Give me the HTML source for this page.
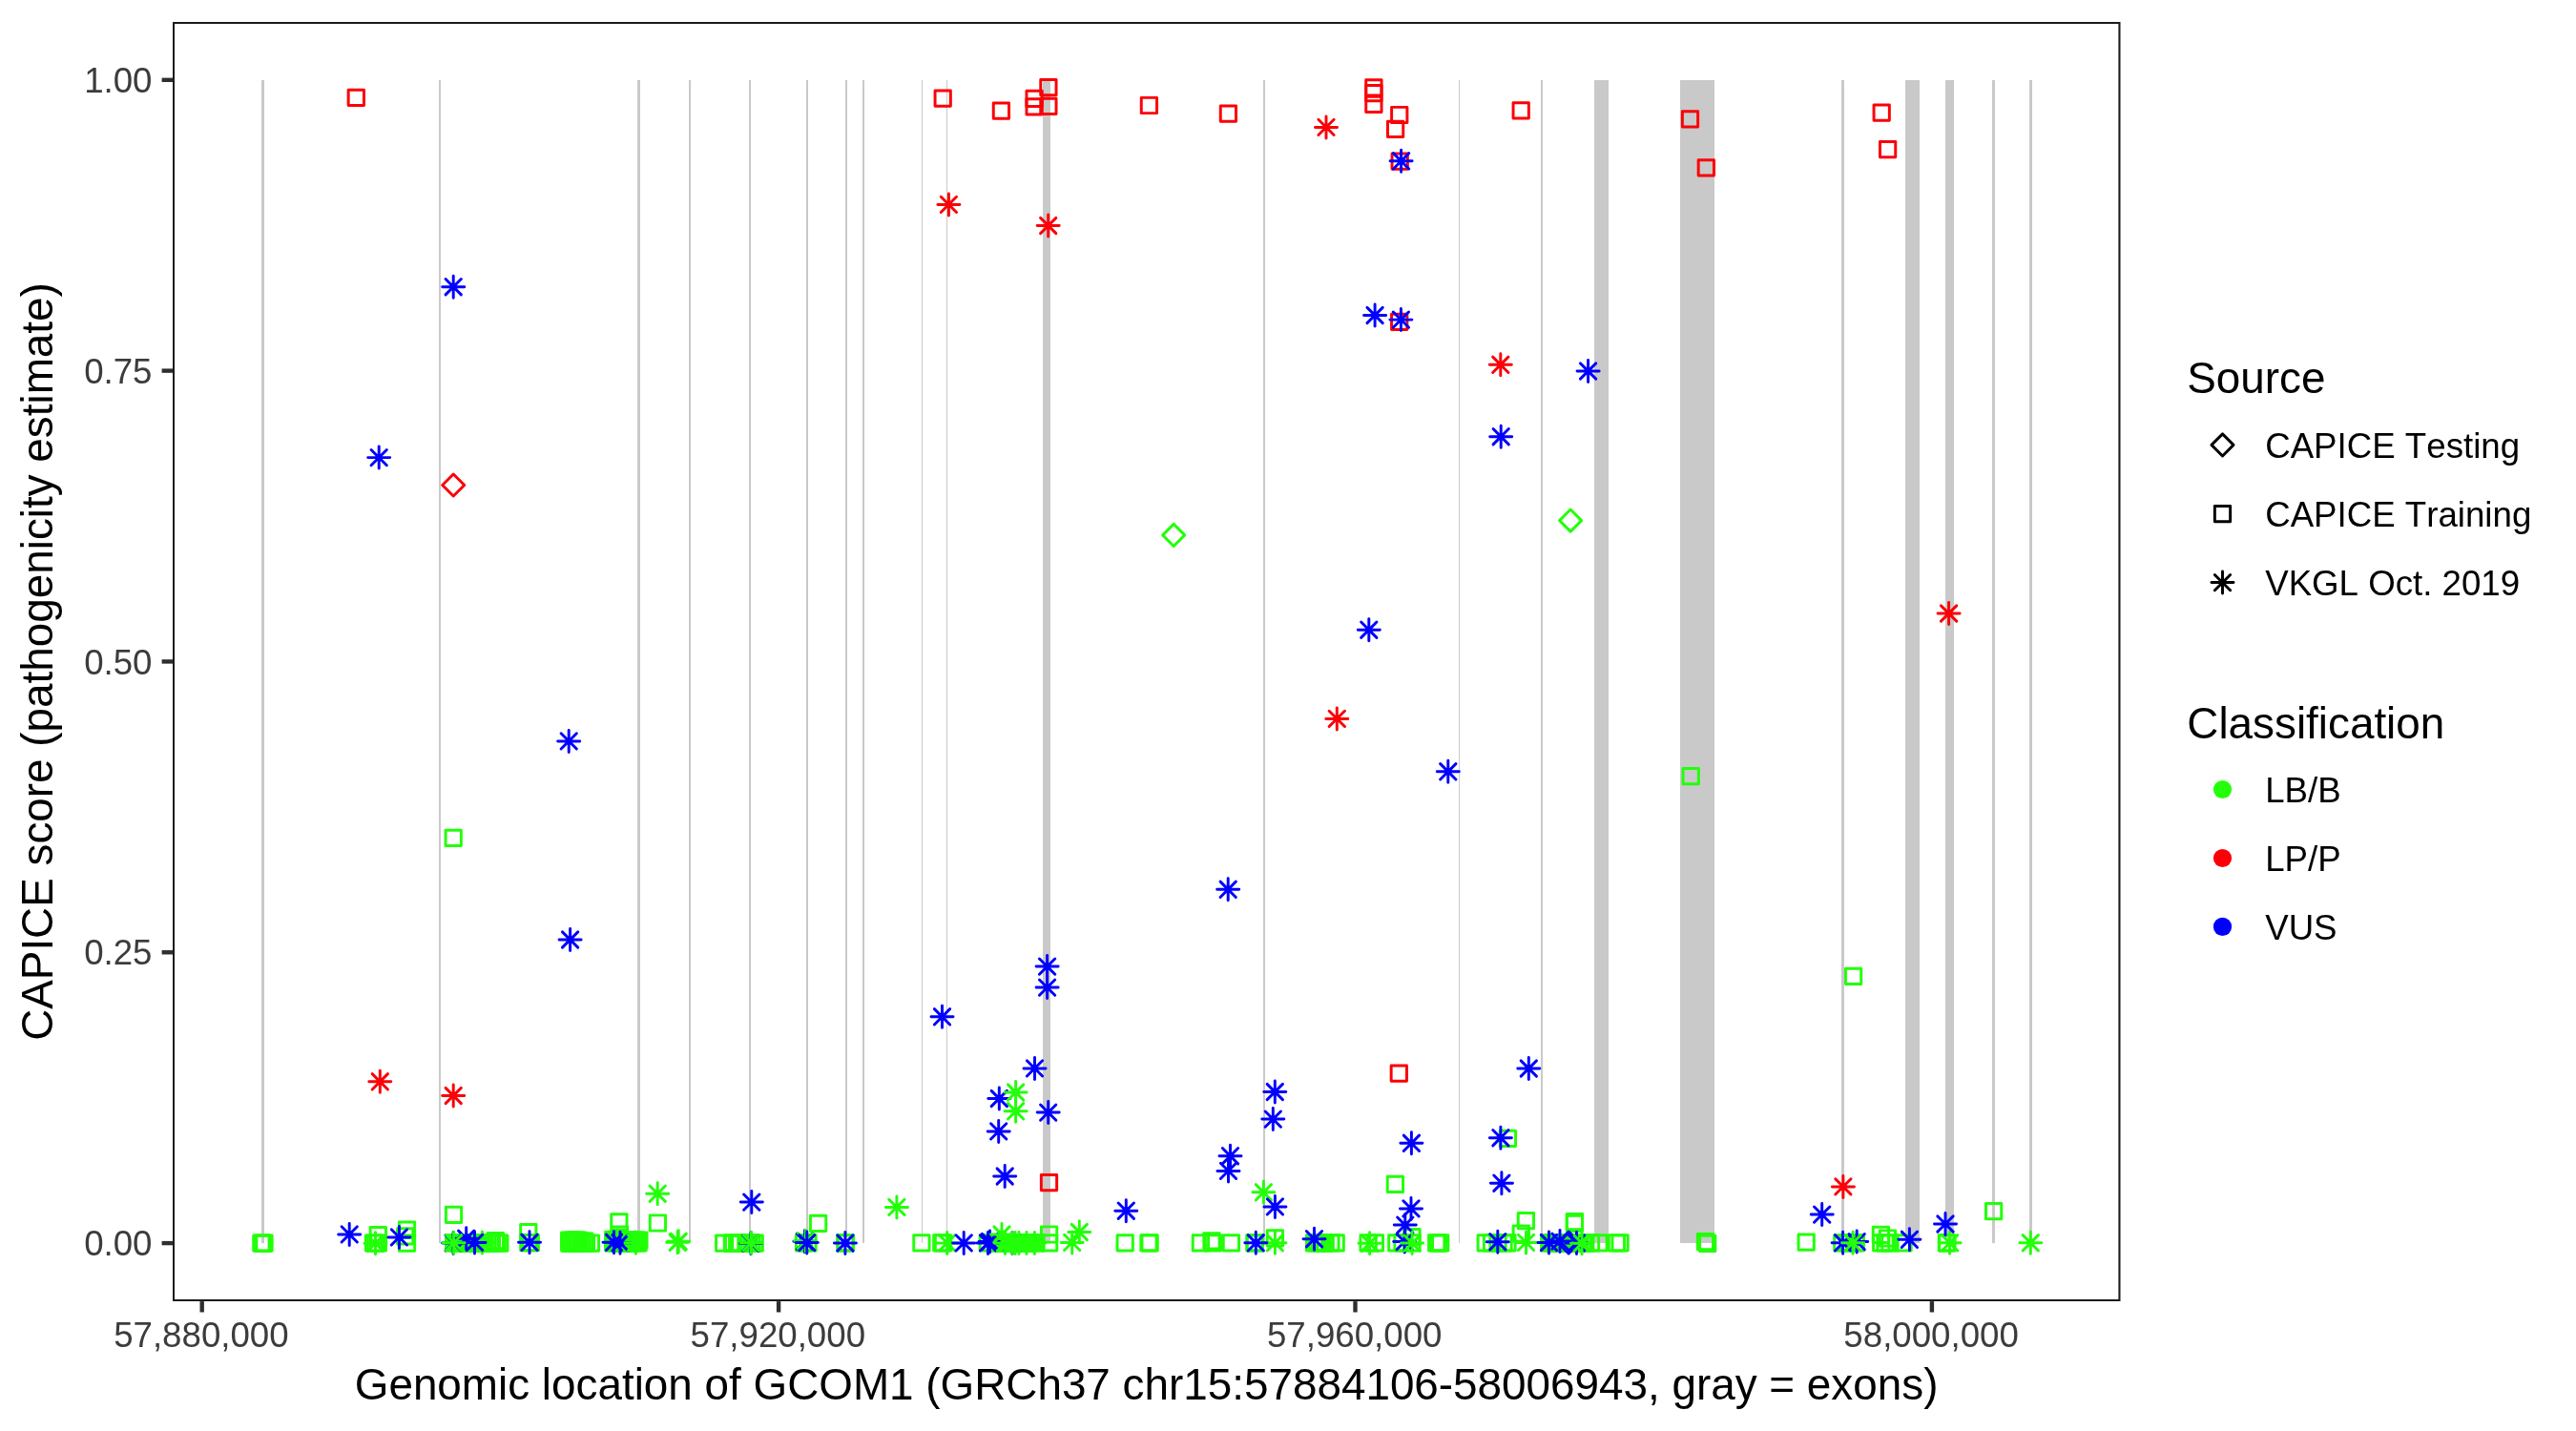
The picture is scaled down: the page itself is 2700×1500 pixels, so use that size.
<!DOCTYPE html>
<html><head><meta charset="utf-8"><title>GCOM1 CAPICE</title>
<style>
html,body{margin:0;padding:0;background:#fff;}
svg{display:block;will-change:transform;}
text{font-family:"Liberation Sans",sans-serif;font-kerning:none;}
.p{fill:none;stroke-width:2.95;stroke-linecap:round;stroke-linejoin:round;}
.g{stroke:#22ff08;}.r{stroke:#fb0006;}.b{stroke:#0000fe;}
.at{font-size:36.67px;fill:#3c3c3c;}
.ti{font-size:45.83px;fill:#000;}
.lt{font-size:36.67px;fill:#000;}
</style></head><body>
<svg width="2700" height="1500" viewBox="0 0 2700 1500">
<defs>
<path id="a" d="M-11.52 0H11.52M0 -11.52V11.52M-8.145 -8.145L8.145 8.145M-8.145 8.145L8.145 -8.145"/>
<path id="s" d="M-8.145 -8.145H8.145V8.145H-8.145Z"/>
<path id="d" d="M-11.52 0L0 -11.52L11.52 0L0 11.52Z"/>
</defs>
<rect x="0" y="0" width="2700" height="1500" fill="#fff"/>
<g fill="#c9c9c9">
<rect x="274" y="84" width="3" height="1219"/>
<rect x="460" y="84" width="2" height="1219"/>
<rect x="668" y="84" width="3" height="1219"/>
<rect x="722" y="84" width="2" height="1219"/>
<rect x="785" y="84" width="2" height="1219"/>
<rect x="845" y="84" width="2" height="1219"/>
<rect x="886" y="84" width="2" height="1219"/>
<rect x="904" y="84" width="2" height="1219"/>
<rect x="966" y="84" width="1" height="1219"/>
<rect x="992" y="84" width="1" height="1219"/>
<rect x="1093" y="84" width="8" height="1219"/>
<rect x="1324" y="84" width="2" height="1219"/>
<rect x="1529" y="84" width="1" height="1219"/>
<rect x="1615" y="84" width="2" height="1219"/>
<rect x="1671" y="84" width="15" height="1219"/>
<rect x="1761" y="84" width="36" height="1219"/>
<rect x="1930" y="84" width="3" height="1219"/>
<rect x="1997" y="84" width="15" height="1219"/>
<rect x="2039" y="84" width="9" height="1219"/>
<rect x="2088" y="84" width="3" height="1219"/>
<rect x="2127" y="84" width="3" height="1219"/>
</g>
<g class="p g">
<use href="#s" x="475.2" y="878.4"/><use href="#s" x="1772.2" y="813.6"/><use href="#s" x="1942.6" y="1023.4"/><use href="#s" x="2089.6" y="1269.6"/><use href="#s" x="1462.4" y="1241.4"/><use href="#s" x="1580.4" y="1193.4"/><use href="#s" x="475.5" y="1273.4"/><use href="#s" x="689.4" y="1282"/><use href="#s" x="648.9" y="1280.9"/><use href="#s" x="649.5" y="1294"/><use href="#s" x="857.6" y="1282.3"/><use href="#s" x="1599.4" y="1279.7"/><use href="#s" x="1594.3" y="1293"/><use href="#s" x="1650.4" y="1280.6"/><use href="#s" x="1650.4" y="1282.3"/><use href="#s" x="396.3" y="1294.6"/><use href="#s" x="426.5" y="1289.2"/><use href="#s" x="424.7" y="1295.8"/><use href="#s" x="426.5" y="1303.2"/><use href="#s" x="553.8" y="1291.7"/><use href="#s" x="1099.6" y="1294"/><use href="#s" x="1336.4" y="1297.8"/><use href="#s" x="1480" y="1296.7"/><use href="#s" x="1971.4" y="1294.3"/><use href="#s" x="1978.4" y="1298"/><use href="#s" x="1270" y="1300.8"/><use href="#s" x="519.4" y="1300.7"/><use href="#s" x="273.9" y="1303.1"/><use href="#s" x="275.4" y="1303.1"/><use href="#s" x="277" y="1303.1"/><use href="#s" x="391.6" y="1303"/><use href="#s" x="393.5" y="1303"/><use href="#s" x="396.3" y="1303"/><use href="#s" x="475.6" y="1302.9"/><use href="#s" x="478.53" y="1302.9"/><use href="#s" x="481.46" y="1302.9"/><use href="#s" x="484.39" y="1302.9"/><use href="#s" x="487.32" y="1302.9"/><use href="#s" x="490.25" y="1302.9"/><use href="#s" x="493.18" y="1302.9"/><use href="#s" x="496.11" y="1302.9"/><use href="#s" x="499.04" y="1302.9"/><use href="#s" x="501.97" y="1302.9"/><use href="#s" x="504.9" y="1302.9"/><use href="#s" x="507.83" y="1302.9"/><use href="#s" x="510.76" y="1302.9"/><use href="#s" x="513.69" y="1302.9"/><use href="#s" x="515.4" y="1302.9"/><use href="#s" x="521.2" y="1302.9"/><use href="#s" x="523.8" y="1303.2"/><use href="#s" x="553.8" y="1302.6"/><use href="#s" x="556.3" y="1302.6"/><use href="#s" x="596.7" y="1303.1"/><use href="#s" x="597.7" y="1303.1"/><use href="#s" x="600.6" y="1303.1"/><use href="#s" x="603.5" y="1303.1"/><use href="#s" x="606.5" y="1303.1"/><use href="#s" x="609.6" y="1303.1"/><use href="#s" x="614.4" y="1303.1"/><use href="#s" x="619.4" y="1303.1"/><use href="#s" x="596.7" y="1300.05"/><use href="#s" x="600.6" y="1300.05"/><use href="#s" x="603.5" y="1300.05"/><use href="#s" x="606" y="1300.05"/><use href="#s" x="609.6" y="1301"/><use href="#s" x="612.5" y="1301"/><use href="#s" x="642.7" y="1302.9"/><use href="#s" x="645.63" y="1302.9"/><use href="#s" x="648.56" y="1302.9"/><use href="#s" x="651.49" y="1302.9"/><use href="#s" x="654.42" y="1302.9"/><use href="#s" x="657.35" y="1302.9"/><use href="#s" x="660.28" y="1302.9"/><use href="#s" x="663.21" y="1302.9"/><use href="#s" x="666.14" y="1302.9"/><use href="#s" x="669.07" y="1302.9"/><use href="#s" x="642.7" y="1299.3"/><use href="#s" x="645.6" y="1299.3"/><use href="#s" x="661" y="1300"/><use href="#s" x="664" y="1300"/><use href="#s" x="667" y="1300"/><use href="#s" x="669.9" y="1300"/><use href="#s" x="758.7" y="1303.05"/><use href="#s" x="767.4" y="1303.05"/><use href="#s" x="768.6" y="1303.05"/><use href="#s" x="772.7" y="1303.05"/><use href="#s" x="775.8" y="1303.05"/><use href="#s" x="782" y="1303.05"/><use href="#s" x="785" y="1303.05"/><use href="#s" x="788" y="1303.05"/><use href="#s" x="791.2" y="1303.05"/><use href="#s" x="842.5" y="1302.9"/><use href="#s" x="847" y="1302.9"/><use href="#s" x="885.8" y="1302.9"/><use href="#s" x="886.5" y="1302.9"/><use href="#s" x="965.9" y="1302.9"/><use href="#s" x="986.8" y="1302.9"/><use href="#s" x="988.5" y="1302.9"/><use href="#s" x="1035.3" y="1302.9"/><use href="#s" x="1046" y="1302.9"/><use href="#s" x="1048.93" y="1302.9"/><use href="#s" x="1051.86" y="1302.9"/><use href="#s" x="1054.79" y="1302.9"/><use href="#s" x="1057.72" y="1302.9"/><use href="#s" x="1060.65" y="1302.9"/><use href="#s" x="1063.58" y="1302.9"/><use href="#s" x="1066.51" y="1302.9"/><use href="#s" x="1069.44" y="1302.9"/><use href="#s" x="1072.37" y="1302.9"/><use href="#s" x="1075.3" y="1302.9"/><use href="#s" x="1078.23" y="1302.9"/><use href="#s" x="1081.16" y="1302.9"/><use href="#s" x="1086" y="1302.9"/><use href="#s" x="1099.6" y="1302.9"/><use href="#s" x="1179.2" y="1302.9"/><use href="#s" x="1204" y="1302.9"/><use href="#s" x="1205.1" y="1302.9"/><use href="#s" x="1258.4" y="1302.9"/><use href="#s" x="1271.5" y="1302.9"/><use href="#s" x="1290.4" y="1302.9"/><use href="#s" x="1314.9" y="1302.9"/><use href="#s" x="1315.5" y="1302.9"/><use href="#s" x="1377.5" y="1302.9"/><use href="#s" x="1380.4" y="1302.9"/><use href="#s" x="1383.4" y="1302.9"/><use href="#s" x="1386.3" y="1302.9"/><use href="#s" x="1389.2" y="1302.9"/><use href="#s" x="1394.9" y="1302.9"/><use href="#s" x="1400.2" y="1302.9"/><use href="#s" x="1434.1" y="1302.9"/><use href="#s" x="1441.4" y="1302.9"/><use href="#s" x="1463.8" y="1302.9"/><use href="#s" x="1470" y="1302.9"/><use href="#s" x="1480" y="1302.9"/><use href="#s" x="1505.7" y="1302.9"/><use href="#s" x="1507.5" y="1302.9"/><use href="#s" x="1509.7" y="1302.9"/><use href="#s" x="1557.2" y="1302.9"/><use href="#s" x="1563.5" y="1302.9"/><use href="#s" x="1570" y="1302.9"/><use href="#s" x="1576" y="1302.9"/><use href="#s" x="1580" y="1302.9"/><use href="#s" x="1623.7" y="1302.9"/><use href="#s" x="1626.63" y="1302.9"/><use href="#s" x="1629.56" y="1302.9"/><use href="#s" x="1632.49" y="1302.9"/><use href="#s" x="1635.42" y="1302.9"/><use href="#s" x="1638.35" y="1302.9"/><use href="#s" x="1641.28" y="1302.9"/><use href="#s" x="1644.21" y="1302.9"/><use href="#s" x="1647.14" y="1302.9"/><use href="#s" x="1650.07" y="1302.9"/><use href="#s" x="1653" y="1302.9"/><use href="#s" x="1655.93" y="1302.9"/><use href="#s" x="1658.86" y="1302.9"/><use href="#s" x="1661.79" y="1302.9"/><use href="#s" x="1667.5" y="1302.9"/><use href="#s" x="1676" y="1302.9"/><use href="#s" x="1694.4" y="1302.9"/><use href="#s" x="1698.1" y="1302.9"/><use href="#s" x="1787.4" y="1301.5"/><use href="#s" x="1789.7" y="1303.45"/><use href="#s" x="1893.2" y="1302.2"/><use href="#s" x="1930.8" y="1302.9"/><use href="#s" x="1937" y="1302.9"/><use href="#s" x="1945.3" y="1302.9"/><use href="#s" x="1971.7" y="1302.9"/><use href="#s" x="1976" y="1302.9"/><use href="#s" x="1981" y="1302.9"/><use href="#s" x="1995" y="1302.9"/><use href="#s" x="2040.4" y="1302.9"/><use href="#s" x="2040.9" y="1302.9"/>
</g>
<g class="p b">
<use href="#a" x="475.1" y="1302.9"/><use href="#a" x="787" y="1303.2"/><use href="#a" x="843.4" y="1301.3"/><use href="#a" x="1061" y="1302.9"/><use href="#a" x="1472.2" y="1301.6"/><use href="#a" x="1652.5" y="1302.9"/><use href="#a" x="1946.2" y="1301.6"/><use href="#a" x="1035.5" y="1302.9"/><use href="#a" x="1037.5" y="1301.5"/>
</g>
<g class="p g">
<use href="#a" x="689.2" y="1251.2"/><use href="#a" x="939.9" y="1265.4"/><use href="#a" x="1064.6" y="1164.8"/><use href="#a" x="1324.4" y="1249.8"/><use href="#a" x="1050" y="1294"/><use href="#a" x="1131.3" y="1291.5"/><use href="#a" x="1123.7" y="1302.4"/><use href="#a" x="393.5" y="1303.2"/><use href="#a" x="505.4" y="1302.5"/><use href="#a" x="710.2" y="1302.3"/><use href="#a" x="711.2" y="1301.3"/><use href="#a" x="844.3" y="1300.7"/><use href="#a" x="992.7" y="1302.9"/><use href="#a" x="1053.5" y="1302.9"/><use href="#a" x="1061" y="1302.9"/><use href="#a" x="1064" y="1302.9"/><use href="#a" x="1068" y="1302.9"/><use href="#a" x="1076" y="1302.9"/><use href="#a" x="1084.4" y="1302.9"/><use href="#a" x="1336.4" y="1302.8"/><use href="#a" x="1435.6" y="1303.2"/><use href="#a" x="1599.5" y="1302.4"/><use href="#a" x="2043.6" y="1302.8"/><use href="#a" x="2128.3" y="1302.8"/>
</g>
<g class="p g">
<use href="#d" x="1230.2" y="560.9"/><use href="#d" x="1646.1" y="545.6"/>
</g>
<g class="p r">
<use href="#s" x="373.3" y="102.3"/><use href="#s" x="988.2" y="103.2"/><use href="#s" x="1049.4" y="116.2"/><use href="#s" x="1084.1" y="103.4"/><use href="#s" x="1084.1" y="111.9"/><use href="#s" x="1098.9" y="91.7"/><use href="#s" x="1098.9" y="111.3"/><use href="#s" x="1204.4" y="110.5"/><use href="#s" x="1287.4" y="119.1"/><use href="#s" x="1439.9" y="91.8"/><use href="#s" x="1439.9" y="97.65"/><use href="#s" x="1439.9" y="109.4"/><use href="#s" x="1466.75" y="120.5"/><use href="#s" x="1462.6" y="135.3"/><use href="#s" x="1467.2" y="169.2"/><use href="#s" x="1594.2" y="115.8"/><use href="#s" x="1771.5" y="124.8"/><use href="#s" x="1788.3" y="175.9"/><use href="#s" x="1972.2" y="118.1"/><use href="#s" x="1978.6" y="156.6"/><use href="#s" x="1466.7" y="337.4"/><use href="#s" x="1466.3" y="1125.2"/><use href="#s" x="1099.5" y="1239.6"/>
</g>
<g class="p r">
<use href="#a" x="994.4" y="214.4"/><use href="#a" x="1098.7" y="236.5"/><use href="#a" x="1390" y="133.4"/><use href="#a" x="1572.8" y="382.3"/><use href="#a" x="1401.3" y="753.4"/><use href="#a" x="2042.6" y="643"/><use href="#a" x="398.3" y="1133.8"/><use href="#a" x="475.2" y="1148.5"/><use href="#a" x="1931.9" y="1243.9"/>
</g>
<g class="p r">
<use href="#d" x="475.2" y="508.5"/>
</g>
<g class="p b">
<use href="#d" x="1644.1" y="1302.5"/>
</g>
<g class="p b">
<use href="#a" x="475.2" y="300.7"/><use href="#a" x="397.2" y="479.6"/><use href="#a" x="596.2" y="776.9"/><use href="#a" x="597.6" y="985"/><use href="#a" x="1468.6" y="168.8"/><use href="#a" x="1441.1" y="330.5"/><use href="#a" x="1468.4" y="335.1"/><use href="#a" x="1664.6" y="389"/><use href="#a" x="1573.2" y="457.7"/><use href="#a" x="1434.8" y="660.2"/><use href="#a" x="1517.8" y="808.8"/><use href="#a" x="1287.2" y="932.3"/><use href="#a" x="1336.3" y="1144.5"/><use href="#a" x="1334.3" y="1173.1"/><use href="#a" x="1602.3" y="1120"/><use href="#a" x="1097.6" y="1013.1"/><use href="#a" x="1097.6" y="1035.1"/><use href="#a" x="987.5" y="1065.8"/><use href="#a" x="1084.5" y="1119.9"/><use href="#a" x="1047.3" y="1151.5"/><use href="#a" x="1098.7" y="1166.1"/><use href="#a" x="1046.7" y="1185.9"/><use href="#a" x="1053.2" y="1233"/><use href="#a" x="1180.3" y="1269.2"/><use href="#a" x="1289.5" y="1211.7"/><use href="#a" x="1287.5" y="1227.4"/><use href="#a" x="1336.4" y="1264.9"/><use href="#a" x="1479.4" y="1198.3"/><use href="#a" x="1479" y="1266.9"/><use href="#a" x="1472.8" y="1284.1"/><use href="#a" x="1572.9" y="1192.7"/><use href="#a" x="1573.9" y="1240.2"/><use href="#a" x="1909.7" y="1273.1"/><use href="#a" x="2039" y="1283"/><use href="#a" x="787.8" y="1260.1"/><use href="#a" x="366.2" y="1293.9"/><use href="#a" x="418.4" y="1296.9"/><use href="#a" x="488.7" y="1298.3"/><use href="#a" x="497.5" y="1302.4"/><use href="#a" x="555" y="1302.3"/><use href="#a" x="643.5" y="1302.3"/><use href="#a" x="650" y="1302.8"/><use href="#a" x="845.8" y="1302.6"/><use href="#a" x="885.9" y="1303"/><use href="#a" x="1010.2" y="1302.9"/><use href="#a" x="1316.3" y="1302.8"/><use href="#a" x="1377.5" y="1298.7"/><use href="#a" x="1569.8" y="1301.7"/><use href="#a" x="1623.5" y="1302.5"/><use href="#a" x="1635" y="1301.1"/><use href="#a" x="1931.6" y="1302.8"/><use href="#a" x="2001.4" y="1299.3"/>
</g>
<g class="p g">
<use href="#a" x="1064.6" y="1145"/><use href="#a" x="1942.1" y="1302.8"/><use href="#a" x="475.6" y="1302.7"/><use href="#a" x="787.4" y="1302.8"/><use href="#a" x="1480.1" y="1303.1"/><use href="#a" x="1658.1" y="1303.2"/><use href="#a" x="666.4" y="1302.8"/>
</g>
<path fill="#1b1b1b" d="M181 23H2222.5V1364H181ZM183 25V1362H2220.4V25Z" fill-rule="evenodd"/>
<g stroke="#2e2e2e" stroke-width="4.4">
<line x1="169.6" x2="181.1" y1="83.8" y2="83.8"/>
<line x1="169.6" x2="181.1" y1="388.62" y2="388.62"/>
<line x1="169.6" x2="181.1" y1="693.45" y2="693.45"/>
<line x1="169.6" x2="181.1" y1="998.27" y2="998.27"/>
<line x1="169.6" x2="181.1" y1="1303.1" y2="1303.1"/>
<line x1="211.7" x2="211.7" y1="1364.1" y2="1375.5"/>
<line x1="816.1" x2="816.1" y1="1364.1" y2="1375.5"/>
<line x1="1420.5" x2="1420.5" y1="1364.1" y2="1375.5"/>
<line x1="2024.9" x2="2024.9" y1="1364.1" y2="1375.5"/>
</g>
<g class="at">
<text x="159.5" y="97" text-anchor="end">1.00</text>
<text x="159.5" y="401.82" text-anchor="end">0.75</text>
<text x="159.5" y="706.65" text-anchor="end">0.50</text>
<text x="159.5" y="1011.47" text-anchor="end">0.25</text>
<text x="159.5" y="1316.3" text-anchor="end">0.00</text>
<text x="210.9" y="1412.2" text-anchor="middle">57,880,000</text>
<text x="815.3" y="1412.2" text-anchor="middle">57,920,000</text>
<text x="1419.7" y="1412.2" text-anchor="middle">57,960,000</text>
<text x="2024.1" y="1412.2" text-anchor="middle">58,000,000</text>
</g>
<text class="ti" x="1201.6" y="1467.3" text-anchor="middle">Genomic location of GCOM1 (GRCh37 chr15:57884106-58006943, gray = exons)</text>
<text class="ti" transform="translate(55.2 693.5) rotate(-90)" text-anchor="middle">CAPICE score (pathogenicity estimate)</text>
<text class="ti" x="2292.3" y="412.4">Source</text>
<g class="p" stroke="#000"><use href="#d" x="2329.5" y="466.4"/><use href="#s" x="2329.5" y="538.6"/><use href="#a" x="2329.5" y="610.6"/></g>
<g class="lt">
<text x="2374.2" y="479.6">CAPICE Testing</text>
<text x="2374.2" y="551.9">CAPICE Training</text>
<text x="2374.2" y="623.9">VKGL Oct. 2019</text>
</g>
<text class="ti" x="2292.3" y="773.8">Classification</text>
<circle cx="2329.5" cy="827.5" r="9.62" fill="#22ff08"/>
<circle cx="2329.5" cy="899.5" r="9.62" fill="#fb0006"/>
<circle cx="2329.5" cy="971.4" r="9.62" fill="#0000fe"/>
<g class="lt">
<text x="2374.2" y="840.9">LB/B</text>
<text x="2374.2" y="912.9">LP/P</text>
<text x="2374.2" y="984.8">VUS</text>
</g>
</svg>
</body></html>
